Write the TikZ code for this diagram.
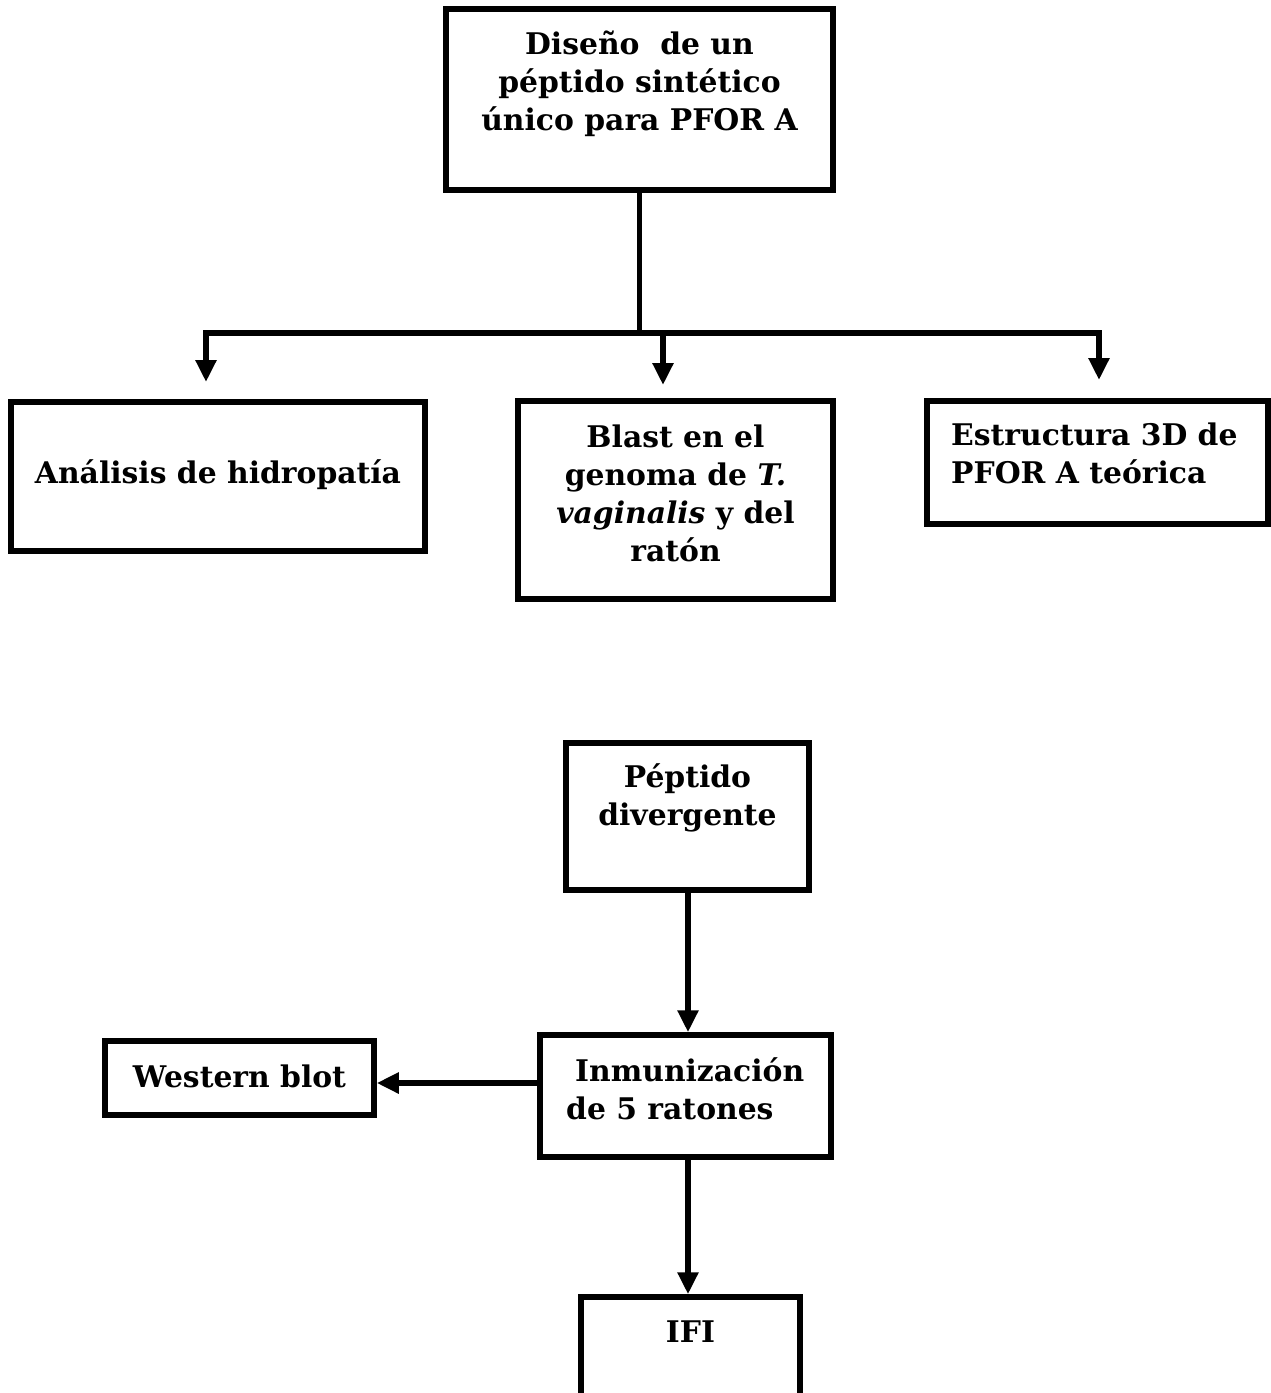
\documentclass[tikz,border=0pt]{standalone}
\usepackage{fontspec}
\setmainfont{DejaVu Serif}
\usetikzlibrary{arrows.meta}
\begin{document}
\begin{tikzpicture}[x=1pt,y=-1pt,
  every node/.style={font=\fontsize{29.8}{38}\selectfont\bfseries},
  box/.style={draw=black, line width=5.5pt, inner sep=0pt},
  txt/.style={inner sep=0pt, align=center},
  link/.style={line width=5.5pt},
  arr/.style={line width=5.5pt, -{Triangle[width=20pt,length=22pt]}}]
\useasboundingbox (0,0) rectangle (1271,1393);
\clip (0,0) rectangle (1271,1393);

% boxes
\node[box, minimum width=387pt, minimum height=181pt] (design) at (639.5,99.5) {};
\node[box, minimum width=414pt, minimum height=149pt] (hidro)  at (218,476.5) {};
\node[box, minimum width=315pt, minimum height=198pt] (blast)  at (675.5,500) {};
\node[box, minimum width=341pt, minimum height=123pt] (estr)   at (1097.5,462.5) {};
\node[box, minimum width=243pt, minimum height=147pt] (pep)    at (687.5,816.5) {};
\node[box, minimum width=291pt, minimum height=122pt] (inmu)   at (685.5,1096) {};
\node[box, minimum width=269pt, minimum height=74pt]  (western) at (239.5,1078) {};
\node[box, minimum width=219pt, minimum height=160pt] (ifi)    at (690.5,1377) {};

% texts
\node[txt] (tdesign) at (639.5,84) {Diseño\ \ de un\\péptido sintético\\único para PFOR A};
\node[txt] (thidro) at (218,475) {Análisis de hidropatía};
\node[txt] (tblast) at (675.5,493.5) {Blast en el\\genoma de \textit{T.}\\\textit{vaginalis} y del\\ratón};
\node[txt, align=left, anchor=west] (testr) at (951,453.5) {Estructura 3D de\\PFOR A teórica};
\node[txt] (tpep) at (687.5,797.5) {Péptido\\divergente};
\node[txt, align=left, anchor=west] (tinmu) at (566,1088.5) {\hspace{9pt}Inmunización\\de 5 ratones};
\node[txt] (twestern) at (239.5,1076) {Western blot};
\node[txt] (tifi) at (690.5,1332) {IFI};

% branching connector under the design box
\coordinate (junc) at (639.5,333);
\coordinate (jl) at (206,333);
\coordinate (jm) at (663,333);
\coordinate (jr) at (1099,333);
\coordinate (el) at (206,382);
\coordinate (em) at (663,385);
\coordinate (er) at (1099,380);
\draw[link] (design.south) -- (junc);
\draw[link, line cap=rect] (jl) -- (jr);
\draw[arr] (jl) -- (el);
\draw[arr] (jm) -- (em);
\draw[arr] (jr) -- (er);

% lower chain
\draw[arr] (pep.south -| 688,0) -- (inmu.north -| 688,0);
\draw[arr] (inmu.west |- 0,1083) -- (western.east |- 0,1083);
\draw[arr] (inmu.south -| 688,0) -- (ifi.north -| 688,0);
\end{tikzpicture}
\end{document}
